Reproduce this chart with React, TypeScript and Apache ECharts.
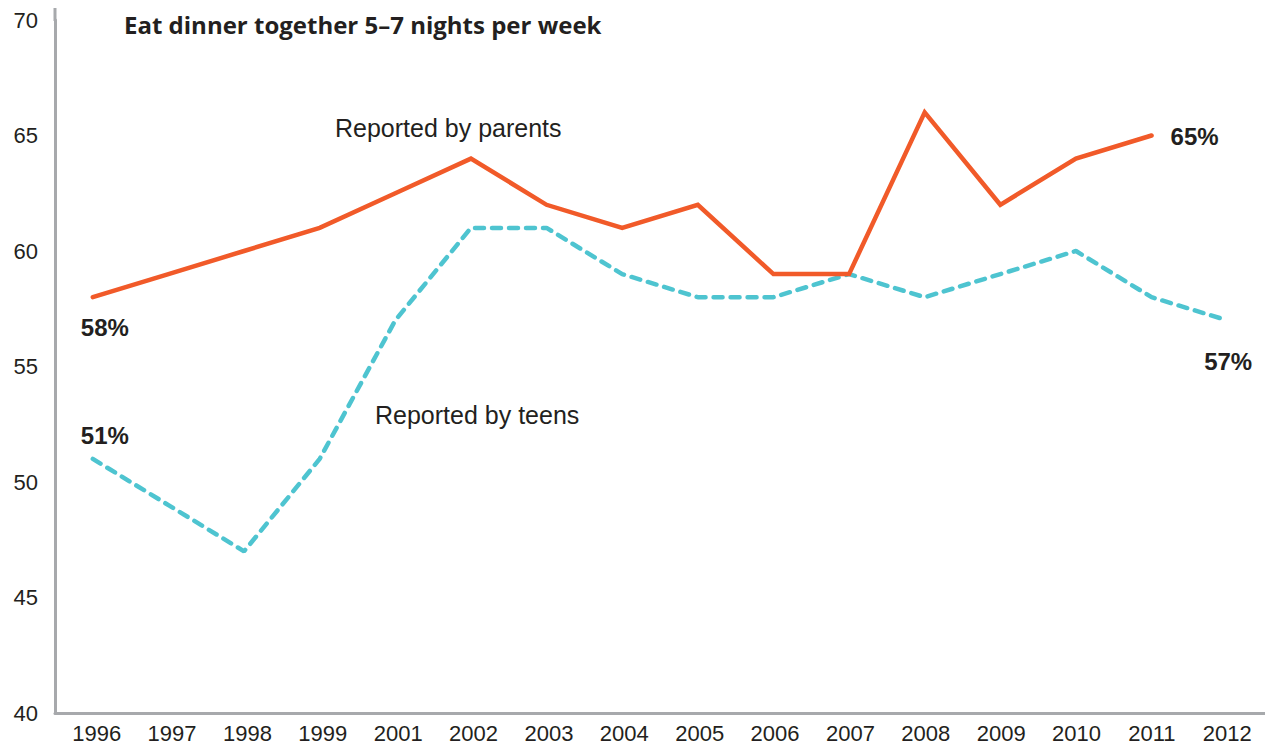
import React, { useEffect, useRef } from "react";
import * as echarts from "echarts";

const years = ["1996", "1997", "1998", "1999", "2001", "2002", "2003", "2004", "2005", "2006", "2007", "2008", "2009", "2010", "2011", "2012"];
const parents: (number | null)[] = [58, 59, 60, 61, 62.5, 64, 62, 61, 62, 59, 59, 66, 62, 64, 65, null];
const teens: number[] = [51, 49, 47, 51, 57, 61, 61, 59, 58, 58, 59, 58, 59, 60, 58, 57];
const yTicks = { min: 40, max: 70, interval: 5 };

const title = "Eat dinner together 5–7 nights per week";
const parentsLabel = "Reported by parents";
const teensLabel = "Reported by teens";

const ORANGE = "#F15A29";
const TEAL = "#4EC4D0";
const AXIS = "#A7A9AC";
const TEXT = "#231F20";

const pctLabel = (position: string, distance: number, offset: number[]) => ({
  show: true,
  position,
  distance,
  offset,
  formatter: (p: any) => `${Math.round(p.value)}%`,
  fontFamily: "Liberation Sans, Arial, sans-serif",
  fontWeight: "bold",
  fontSize: 24,
  color: TEXT,
});

export default function App() {
  const ref = useRef<HTMLDivElement>(null);
  useEffect(() => {
    if (!ref.current) return;
    const chart = echarts.init(ref.current, null, { renderer: "svg" });
    const parentsData = parents.map((v, i) => {
      if (i === 0) return { value: v, label: pctLabel("bottom", 18, [12, 0]) };
      if (i === 14) return { value: v, label: pctLabel("right", 19, [0, 1]) };
      return v;
    });
    const teensData = teens.map((v, i) => {
      if (i === 0) return { value: v, label: pctLabel("top", 11, [12, 0]) };
      if (i === 15) return { value: v, label: pctLabel("bottom", 29, [1, 0]) };
      return v;
    });
    chart.setOption({
      animation: false,
      grid: [
        { left: 55, right: 0, top: 20, bottom: 32, containLabel: false },
        { left: 59, right: -9, top: 20, bottom: 32, containLabel: false },
      ],
      xAxis: [
        {
          gridIndex: 0,
          type: "category",
          data: years,
          boundaryGap: true,
          axisLine: { show: true, lineStyle: { color: AXIS, width: 3 } },
          axisTick: { show: false },
          axisLabel: { show: false },
          splitLine: { show: false },
        },
        {
          gridIndex: 1,
          type: "category",
          data: years,
          boundaryGap: true,
          axisLine: { show: false },
          axisTick: { show: false },
          axisLabel: { color: TEXT, fontSize: 22, fontFamily: "Liberation Sans, Arial, sans-serif", margin: 9 },
          splitLine: { show: false },
        },
      ],
      yAxis: [
        {
          gridIndex: 0,
          type: "value",
          min: yTicks.min,
          max: yTicks.max,
          interval: yTicks.interval,
          axisLine: { show: true, lineStyle: { color: AXIS, width: 3 } },
          axisTick: { show: false },
          axisLabel: { color: TEXT, fontSize: 22, fontFamily: "Liberation Sans, Arial, sans-serif", margin: 17 },
          splitLine: { show: false },
        },
        {
          gridIndex: 1,
          type: "value",
          min: yTicks.min,
          max: yTicks.max,
          interval: yTicks.interval,
          show: false,
        },
      ],
      graphic: [
        { type: "rect", shape: { x: 53.5, y: 8, width: 3, height: 13 }, style: { fill: AXIS } },
        {
          type: "text",
          x: 124,
          y: 24,
          style: {
            text: title,
            fill: TEXT,
            font: "bold 24px 'Open Sans', sans-serif",
            textVerticalAlign: "middle",
          },
        },
        {
          type: "text",
          x: 335,
          y: 128,
          style: {
            text: parentsLabel,
            fill: TEXT,
            font: "25px 'Liberation Sans', Arial, sans-serif",
            textVerticalAlign: "middle",
          },
        },
        {
          type: "text",
          x: 375,
          y: 415,
          style: {
            text: teensLabel,
            fill: TEXT,
            font: "25px 'Liberation Sans', Arial, sans-serif",
            textVerticalAlign: "middle",
          },
        },
      ],
      series: [
        {
          name: "Reported by parents",
          type: "line",
          xAxisIndex: 0,
          yAxisIndex: 0,
          data: parentsData,
          symbol: "circle",
          symbolSize: 0,
          showSymbol: true,
          lineStyle: { color: ORANGE, width: 4.5, cap: "round", join: "miter" },
          itemStyle: { color: ORANGE },
          z: 3,
        },
        {
          name: "Reported by teens",
          type: "line",
          xAxisIndex: 0,
          yAxisIndex: 0,
          data: teensData,
          symbol: "circle",
          symbolSize: 0,
          showSymbol: true,
          lineStyle: { color: TEAL, width: 4.5, type: [9, 8], cap: "round" },
          itemStyle: { color: TEAL },
          z: 2,
        },
      ],
    });
    return () => chart.dispose();
  }, []);
  return <div ref={ref} style={{ width: 1265, height: 745, position: "absolute", left: 0, top: 0 }} />;
}
